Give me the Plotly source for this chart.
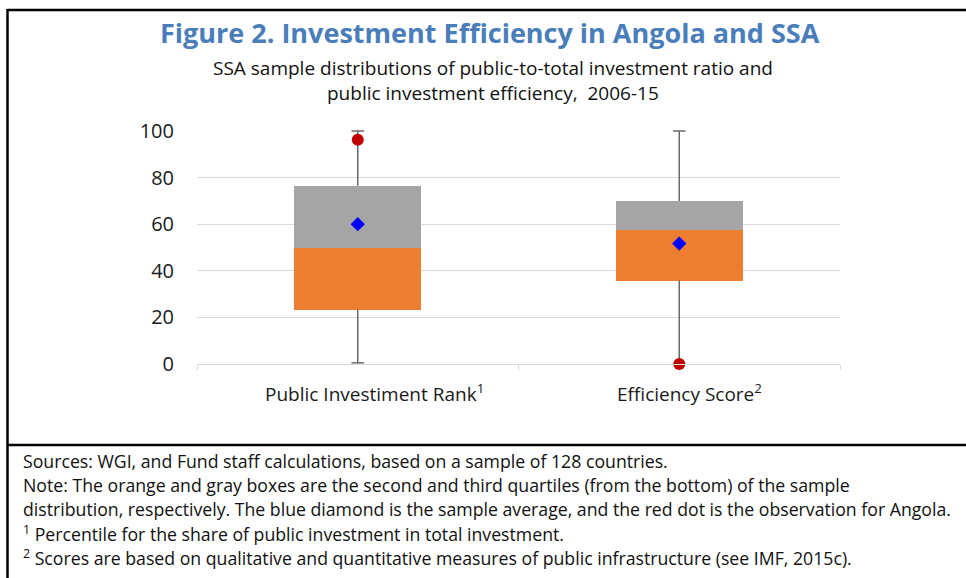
import plotly.graph_objects as go

# ---- data ----
categories = ["Public Investiment Rank", "Efficiency Score"]
category_labels = ["Public Investiment Rank<sup>1</sup>", "Efficiency Score<sup>2</sup>"]
whisker_min = [0.5, 0.0]
q1 = [23.3, 35.8]
median = [50.0, 57.5]
q3 = [76.5, 70.0]
whisker_max = [100.0, 100.0]
sample_avg = [60.0, 51.7]
angola = [96.2, 0.0]
y_ticks = [0, 20, 40, 60, 80, 100]

# ---- geometry helpers (pixel -> paper) ----
W, H = 966, 578
L, R, T, B = 197, 840, 131, 364
def px(x):
    return (x - L) / (R - L)
def py(y):
    return (B - y) / (B - T)

FONT = "Open Sans"
ORANGE = "#ED7D31"
GRAY = "#A5A5A5"
WHISKER = "#6a6a6a"

fig = go.Figure()

lower_len = [m - a for m, a in zip(median, q1)]
upper_len = [b - m for b, m in zip(q3, median)]

fig.add_trace(go.Bar(x=categories, y=lower_len, base=q1, marker=dict(color=ORANGE, line=dict(width=0)),
                     width=0.395, hoverinfo="skip", showlegend=False))
fig.add_trace(go.Bar(x=categories, y=upper_len, base=median, marker=dict(color=GRAY, line=dict(width=0)),
                     width=0.395, hoverinfo="skip", showlegend=False))

# whisker stems
wx, wy = [], []
for c, lo, a, b, hi in zip(categories, whisker_min, q1, q3, whisker_max):
    wx += [c, c, None, c, c, None]
    wy += [hi, b, None, a, lo, None]
fig.add_trace(go.Scatter(x=wx, y=wy, mode="lines", line=dict(color=WHISKER, width=1.5),
                         showlegend=False, hoverinfo="skip", cliponaxis=False))
# whisker caps
fig.add_trace(go.Scatter(x=categories + categories, y=whisker_max + whisker_min, mode="markers",
                         marker=dict(symbol="line-ew", size=9, line=dict(color=WHISKER, width=1.5)),
                         showlegend=False, hoverinfo="skip", cliponaxis=False))

# sample average (blue diamond)
fig.add_trace(go.Scatter(x=categories, y=sample_avg, mode="markers",
                         marker=dict(symbol="diamond", size=11, color="#0000FF"),
                         showlegend=False, cliponaxis=False))
# Angola (red dot)
fig.add_trace(go.Scatter(x=categories, y=angola, mode="markers",
                         marker=dict(symbol="circle", size=12, color="#C00000"),
                         showlegend=False, cliponaxis=False))

annotations = []
annotations.append(dict(text="<b>Figure 2. Investment Efficiency in Angola and SSA</b>",
                        x=px(490), y=py(33), xref="paper", yref="paper", showarrow=False,
                        xanchor="center", yanchor="middle",
                        font=dict(family=FONT, size=27, color="#4A7EBB")))
sub_lines = ["SSA sample distributions of public-to-total investment ratio and",
             "public investment efficiency,  2006-15"]
for i, t in enumerate(sub_lines):
    annotations.append(dict(text=t, x=px(493), y=py(68 + 25 * i), xref="paper", yref="paper",
                            showarrow=False, xanchor="center", yanchor="middle",
                            font=dict(family=FONT, size=19, color="#111111")))
# category labels
for c, lab, shift in zip(categories, category_labels, [17, 10]):
    annotations.append(dict(text=lab, x=c, xref="x", y=py(393), yref="paper", xshift=shift,
                            showarrow=False, xanchor="center", yanchor="middle",
                            font=dict(family=FONT, size=19, color="#1a1a1a")))
notes = [
    "Sources: WGI, and Fund staff calculations, based on a sample of 128 countries.",
    "Note: The orange and gray boxes are the second and third quartiles (from the bottom) of the sample",
    "distribution, respectively. The blue diamond is the sample average, and the red dot is the observation for Angola.",
    "<sup>1</sup> Percentile for the share of public investment in total investment.",
    "<sup>2</sup> Scores are based on qualitative and quantitative measures of public infrastructure (see IMF, 2015c).",
]
for i, t in enumerate(notes):
    annotations.append(dict(text=t, x=px(21), y=py(461 + 24 * i), xref="paper", yref="paper",
                            showarrow=False, xanchor="left", yanchor="middle",
                            font=dict(family=FONT, size=17.7, color="#111111")))

shapes = [
    dict(type="line", xref="paper", yref="paper", x0=px(7.5), x1=px(975), y0=py(10), y1=py(10),
         line=dict(color="black", width=2.5)),
    dict(type="line", xref="paper", yref="paper", x0=px(7.5), x1=px(7.5), y0=py(9), y1=py(590),
         line=dict(color="black", width=2.5)),
    dict(type="line", xref="paper", yref="paper", x0=px(7.5), x1=px(975), y0=py(445), y1=py(445),
         line=dict(color="black", width=2.5)),
]

fig.update_layout(
    width=W, height=H,
    margin=dict(l=L, r=W - R, t=T, b=H - B, pad=0),
    paper_bgcolor="white", plot_bgcolor="white",
    barmode="overlay", bargap=0,
    annotations=annotations, shapes=shapes,
    font=dict(family=FONT, color="#1a1a1a"),
    xaxis=dict(type="category", categoryarray=categories, showgrid=False, showline=True,
               linecolor="#D9D9D9", linewidth=1,
               ticks="outside", tickson="boundaries", ticklen=5, tickcolor="#D9D9D9",
               showticklabels=False, fixedrange=True),
    yaxis=dict(range=[0, 100], tickvals=y_ticks, showgrid=True, gridcolor="#D9D9D9", gridwidth=1,
               zeroline=False, showline=False, ticks="",
               tickfont=dict(family=FONT, size=20, color="#1a1a1a"), ticklabelstandoff=22,
               fixedrange=True),
)

fig.write_html("out.html", config={"displayModeBar": False},
               post_script="document.body.style.margin='0';document.documentElement.style.overflow='hidden';")
